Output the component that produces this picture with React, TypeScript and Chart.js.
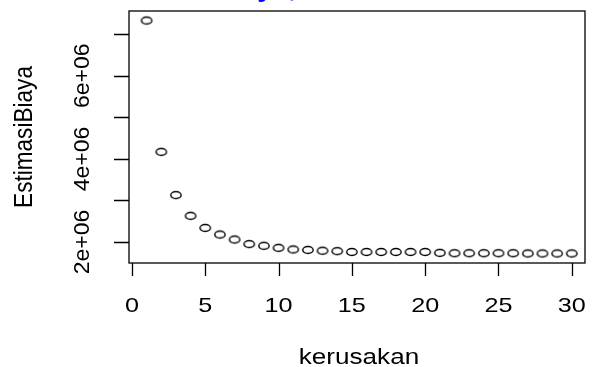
import React, { useEffect, useRef } from "react";
import { Chart, registerables } from "chart.js";

Chart.register(...registerables);

const kerusakan = Array.from({ length: 30 }, (_, i) => i + 1);
const estimasiBiaya = [
  7330000, 4170000, 3130000, 2630000, 2340000, 2180000, 2060000, 1950000, 1910000, 1860000,
  1820000, 1810000, 1790000, 1780000, 1760000, 1760000, 1760000, 1760000, 1760000, 1760000,
  1740000, 1730000, 1730000, 1730000, 1730000, 1730000, 1725000, 1725000, 1725000, 1725000,
];
const xTicks = [0, 5, 10, 15, 20, 25, 30];
const xTickLabels = ["0", "5", "10", "15", "20", "25", "30"];
const yTicks = [2000000, 3000000, 4000000, 5000000, 6000000, 7000000];
const yTickLabels = ["2e+06", "", "4e+06", "", "6e+06", ""];
const xTitle = "kerusakan";
const yTitle = "EstimasiBiaya";
const mainTitle = "Biaya, kerusakan";

const FONT = "'Liberation Sans', Arial, Helvetica, sans-serif";

function drawText(
  ctx: CanvasRenderingContext2D,
  text: string,
  x: number,
  y: number,
  o: { size: number; sx?: number; rot?: boolean; align?: CanvasTextAlign; bold?: boolean; color?: string }
) {
  ctx.save();
  ctx.translate(x, y);
  ctx.scale(o.sx ?? 1, 1);
  if (o.rot) ctx.rotate(-Math.PI / 2);
  ctx.font = `${o.bold ? "bold " : ""}${o.size}px ${FONT}`;
  ctx.fillStyle = o.color ?? "#000";
  ctx.textAlign = o.align ?? "center";
  ctx.textBaseline = "alphabetic";
  ctx.fillText(text, 0, 0);
  ctx.restore();
}

function makeEllipse() {
  const c = document.createElement("canvas");
  c.width = 16;
  c.height = 12;
  const g = c.getContext("2d")!;
  g.strokeStyle = "#000";
  g.lineWidth = 1.4;
  g.beginPath();
  g.ellipse(8, 6, 5.2, 3.5, 0, 0, Math.PI * 2);
  g.stroke();
  return c;
}

const pointImg = makeEllipse();

const axesPlugin = {
  id: "rAxes",
  afterDraw(chart: any) {
    const ctx: CanvasRenderingContext2D = chart.ctx;
    const a = chart.chartArea;
    const xs = chart.scales.x;
    const ys = chart.scales.y;
    ctx.save();
    ctx.strokeStyle = "#000";
    ctx.lineWidth = 1.3;
    ctx.strokeRect(a.left, a.top, a.right - a.left, a.bottom - a.top);
    ctx.beginPath();
    xTicks.forEach((v) => {
      const px = Math.round(xs.getPixelForValue(v)) + 0.5;
      ctx.moveTo(px, a.bottom);
      ctx.lineTo(px, a.bottom + 13);
    });
    yTicks.forEach((v) => {
      const py = Math.round(ys.getPixelForValue(v)) + 0.5;
      ctx.moveTo(a.left, py);
      ctx.lineTo(a.left - 15, py);
    });
    ctx.stroke();
    ctx.restore();

    xTicks.forEach((v, i) => {
      drawText(ctx, xTickLabels[i], xs.getPixelForValue(v), 312, { size: 21, sx: 1.2 });
    });
    yTicks.forEach((v, i) => {
      if (yTickLabels[i]) drawText(ctx, yTickLabels[i], 89, ys.getPixelForValue(v), { size: 23, sx: 0.93, rot: true });
    });
    drawText(ctx, xTitle, (a.left + a.right) / 2 + 2, 364, { size: 22.3, sx: 1.17 });
    drawText(ctx, yTitle, 31.5, (a.top + a.bottom) / 2, { size: 22.6, sx: 1.17, rot: true });
    drawText(ctx, mainTitle, 213.5, -3, { size: 24, sx: 1.17, bold: true, color: "#0000ff", align: "left" });
  },
};

export default function App() {
  const ref = useRef<HTMLCanvasElement | null>(null);
  useEffect(() => {
    document.body.style.margin = "0";
    const canvas = ref.current!;
    const chart = new Chart(canvas, {
      type: "scatter",
      data: {
        datasets: [
          {
            data: kerusakan.map((x, i) => ({ x, y: estimasiBiaya[i] })),
            pointStyle: pointImg as any,
            pointRadius: 6,
            pointHoverRadius: 6,
          },
        ],
      },
      options: {
        responsive: false,
        animation: false,
        devicePixelRatio: 1,
        layout: { padding: { left: 129, top: 11, right: 3, bottom: 104 } },
        plugins: { legend: { display: false }, tooltip: { enabled: false } },
        events: [],
        scales: {
          x: { type: "linear", min: -0.2, max: 30.9, display: false },
          y: { type: "linear", min: 1495000, max: 7560000, display: false },
        },
      },
      plugins: [axesPlugin],
    });
    return () => chart.destroy();
  }, []);
  return <canvas ref={ref} width={592} height={367} style={{ display: "block" }} />;
}
